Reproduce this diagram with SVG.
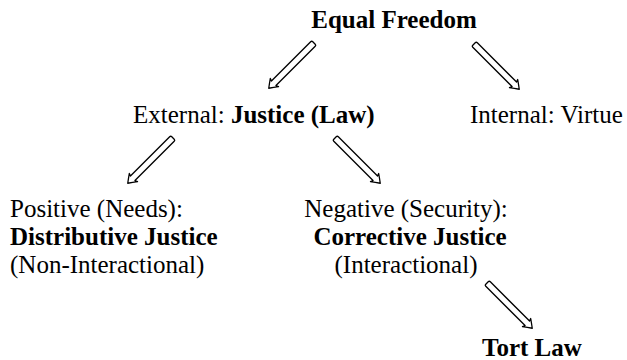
<svg xmlns="http://www.w3.org/2000/svg" width="627" height="360" viewBox="0 0 627 360">
<style>
text{font-family:"Liberation Serif","Times New Roman",serif;font-size:25px;fill:#000}
.b{font-weight:bold}
.arr{fill:#fff;stroke:#000;stroke-width:1.3;stroke-linejoin:round}
</style>
<defs>
<path id="arrow" class="arr" d="M1.5,-3.2 L57,-3.2 L56,-5.8 Q60,-3 64,0 Q60,3 56,5.8 L57,3.2 L1.5,3.2 Q0,3.2 0,1.7 L0,-1.7 Q0,-3.2 1.5,-3.2 Z"/>
</defs>
<rect width="627" height="360" fill="#fff"/>
<g id="connectors">
<use href="#arrow" transform="translate(314,43) rotate(135)"/>
<use href="#arrow" transform="translate(474,44) rotate(45)"/>
<use href="#arrow" transform="translate(173,138) rotate(135)"/>
<use href="#arrow" transform="translate(335,138) rotate(45)"/>
<use href="#arrow" transform="translate(487,283) rotate(45)"/>
</g>
<g id="equal-freedom"><text x="394" y="28" text-anchor="middle" class="b">Equal Freedom</text></g>
<g id="external"><text x="133" y="123">External: <tspan class="b">Justice (Law)</tspan></text></g>
<g id="internal"><text x="470" y="123">Internal: Virtue</text></g>
<g id="positive">
<text x="10" y="217">Positive (Needs):</text>
<text x="10" y="245" class="b">Distributive Justice</text>
<text x="10" y="273">(Non-Interactional)</text>
</g>
<g id="negative">
<text x="406" y="217" text-anchor="middle">Negative (Security):</text>
<text x="410" y="245" text-anchor="middle" class="b">Corrective Justice</text>
<text x="406" y="273" text-anchor="middle">(Interactional)</text>
</g>
<g id="tort"><text x="482" y="356" class="b">Tort Law</text></g>
</svg>
